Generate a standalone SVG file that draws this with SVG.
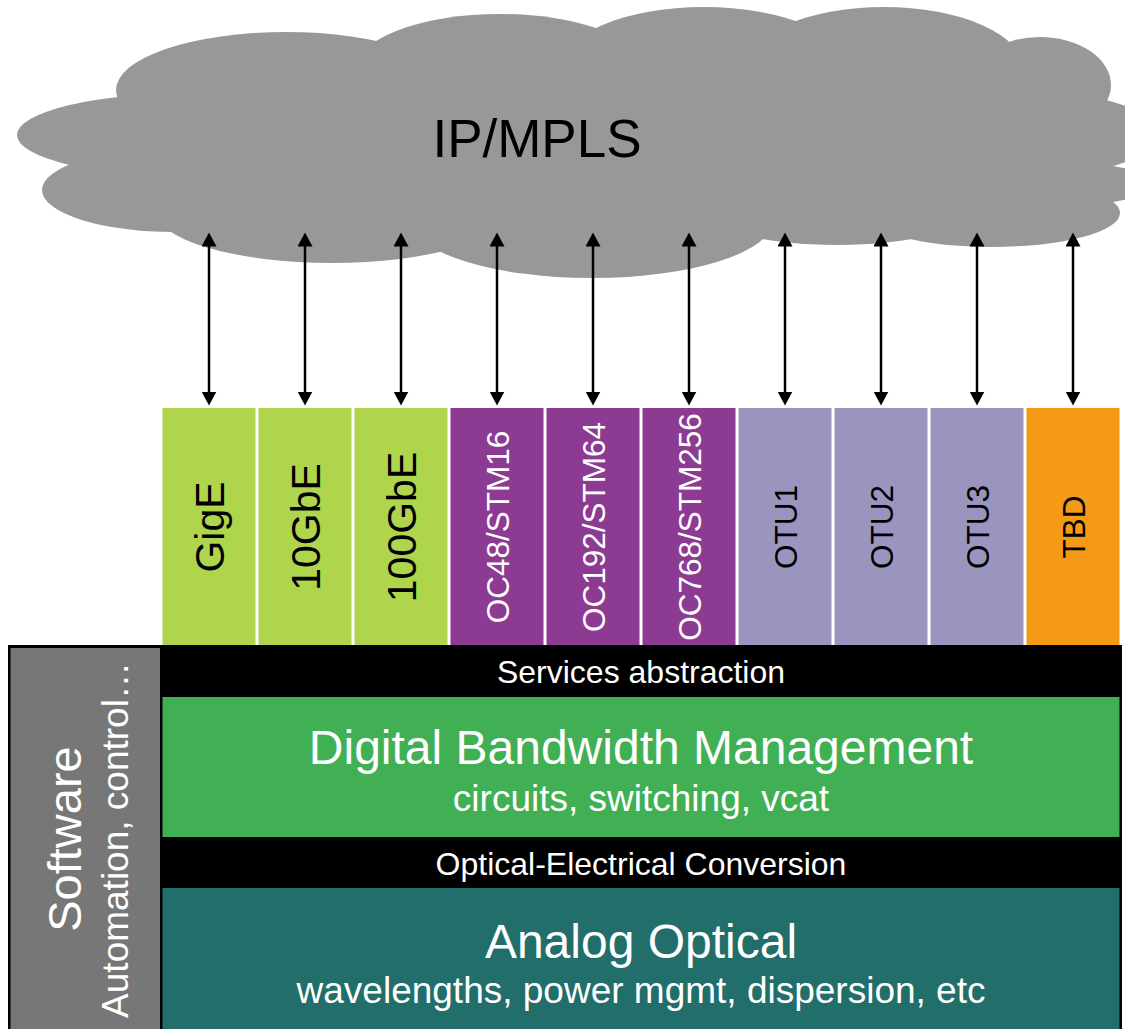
<svg xmlns="http://www.w3.org/2000/svg" width="1125" height="1029" viewBox="0 0 1125 1029">
  <defs>
    <style>
      text { font-family: "Liberation Sans", Arial, sans-serif; }
      .cloud { fill: #989898; }
      .svc { stroke: none; }
      .eth { fill: #AED54C; }
      .sdh { fill: #8D3A92; }
      .otn { fill: #9A95BF; }
      .tbd { fill: #F59A17; }
      .vlab { font-size: 41px; fill: #000; text-anchor: middle; }
      .slab { font-size: 31.5px; text-anchor: middle; }
      .wht { fill: #fff; }
      .blk { fill: #000; }
      .link { stroke: #000; stroke-width: 2.5; fill: none; marker-start: url(#head); marker-end: url(#head); }
      .big { font-size: 48px; fill: #fff; text-anchor: middle; }
      .sub { font-size: 37px; fill: #fff; text-anchor: middle; }
      .bar { font-size: 32px; fill: #fff; text-anchor: middle; }
    </style>
    <marker id="head" markerUnits="userSpaceOnUse" markerWidth="16" markerHeight="16" refX="0.5" refY="7.5" orient="auto-start-reverse" viewBox="0 0 16 16">
      <path d="M0,0 L14,7.5 L0,15 z" fill="#000"/>
    </marker>
  </defs>

  <!-- IP/MPLS cloud built from overlapping ellipses -->
  <g id="cloud">
    <g class="cloud">
      <ellipse cx="286" cy="90" rx="170" ry="58"/>
      <ellipse cx="500" cy="70" rx="145" ry="56"/>
      <ellipse cx="704" cy="70" rx="145" ry="63"/>
      <ellipse cx="884" cy="70" rx="140" ry="63"/>
      <ellipse cx="1040" cy="85" rx="71" ry="48"/>
      <ellipse cx="960" cy="134" rx="200" ry="50"/>
      <ellipse cx="960" cy="184" rx="200" ry="28"/>
      <ellipse cx="992" cy="213" rx="128" ry="34"/>
      <ellipse cx="837" cy="210" rx="135" ry="35"/>
      <ellipse cx="592" cy="220" rx="181" ry="58"/>
      <ellipse cx="332" cy="210" rx="177" ry="53"/>
      <ellipse cx="175" cy="190" rx="133" ry="42"/>
      <ellipse cx="193" cy="135" rx="176" ry="42"/>
      <rect x="200" y="60" width="800" height="165"/>
    </g>
    <text x="537" y="157" font-size="53" text-anchor="middle" fill="#000">IP/MPLS</text>
  </g>

  <!-- connectors between the cloud and each service -->
  <g id="connectors">
    <line class="link" x1="209" y1="246" x2="209" y2="392"/>
    <line class="link" x1="305" y1="246" x2="305" y2="392"/>
    <line class="link" x1="401" y1="246" x2="401" y2="392"/>
    <line class="link" x1="497" y1="246" x2="497" y2="392"/>
    <line class="link" x1="593" y1="246" x2="593" y2="392"/>
    <line class="link" x1="689" y1="246" x2="689" y2="392"/>
    <line class="link" x1="785" y1="246" x2="785" y2="392"/>
    <line class="link" x1="881" y1="246" x2="881" y2="392"/>
    <line class="link" x1="977" y1="246" x2="977" y2="392"/>
    <line class="link" x1="1073" y1="246" x2="1073" y2="392"/>
  </g>

  <!-- client services -->
  <g id="svc-gige">
    <rect class="eth" x="162.5" y="408" width="93" height="240"/>
    <text class="vlab" transform="translate(224,527) rotate(-90)">GigE</text>
  </g>
  <g id="svc-10gbe">
    <rect class="eth" x="258.5" y="408" width="93" height="240"/>
    <text class="vlab" transform="translate(320,527) rotate(-90)">10GbE</text>
  </g>
  <g id="svc-100gbe">
    <rect class="eth" x="354.5" y="408" width="93" height="240"/>
    <text class="vlab" transform="translate(416,527) rotate(-90)">100GbE</text>
  </g>
  <g id="svc-oc48">
    <rect class="sdh" x="450.5" y="408" width="93" height="240"/>
    <text class="slab wht" transform="translate(509,527) rotate(-90)">OC48/STM16</text>
  </g>
  <g id="svc-oc192">
    <rect class="sdh" x="546.5" y="408" width="93" height="240"/>
    <text class="slab wht" transform="translate(605,527) rotate(-90)">OC192/STM64</text>
  </g>
  <g id="svc-oc768">
    <rect class="sdh" x="642.5" y="408" width="93" height="240"/>
    <text class="slab wht" transform="translate(701,527) rotate(-90)">OC768/STM256</text>
  </g>
  <g id="svc-otu1">
    <rect class="otn" x="738.5" y="408" width="93" height="240"/>
    <text class="slab blk" transform="translate(797,527) rotate(-90)">OTU1</text>
  </g>
  <g id="svc-otu2">
    <rect class="otn" x="834.5" y="408" width="93" height="240"/>
    <text class="slab blk" transform="translate(893,527) rotate(-90)">OTU2</text>
  </g>
  <g id="svc-otu3">
    <rect class="otn" x="930.5" y="408" width="93" height="240"/>
    <text class="slab blk" transform="translate(989,527) rotate(-90)">OTU3</text>
  </g>
  <g id="svc-tbd">
    <rect class="tbd" x="1026.5" y="408" width="93" height="240"/>
    <text class="slab blk" transform="translate(1085,527) rotate(-90)">TBD</text>
  </g>

  <!-- layered platform -->
  <g id="platform">
    <rect x="8" y="645" width="1114" height="390" fill="#000"/>
  </g>
  <g id="software">
    <rect x="10.5" y="648" width="149.5" height="390" fill="#777777"/>
    <text transform="translate(81,839) rotate(-90)" font-size="47" fill="#fff" text-anchor="middle">Software</text>
    <text transform="translate(128,840) rotate(-90)" font-size="37" fill="#fff" text-anchor="middle">Automation, control…</text>
  </g>
  <g id="services-abstraction">
    <text class="bar" x="641" y="683">Services abstraction</text>
  </g>
  <g id="digital-bw">
    <rect x="162.5" y="697" width="957" height="140" fill="#41B055"/>
    <text class="big" x="641" y="764">Digital Bandwidth Management</text>
    <text class="sub" x="641" y="811">circuits, switching, vcat</text>
  </g>
  <g id="oe-conversion">
    <text class="bar" x="641" y="875">Optical-Electrical Conversion</text>
  </g>
  <g id="analog-optical">
    <rect x="162.5" y="888" width="957" height="150" fill="#216E6A"/>
    <text class="big" x="641" y="958">Analog Optical</text>
    <text class="sub" x="641" y="1003">wavelengths, power mgmt, dispersion, etc</text>
  </g>
</svg>
